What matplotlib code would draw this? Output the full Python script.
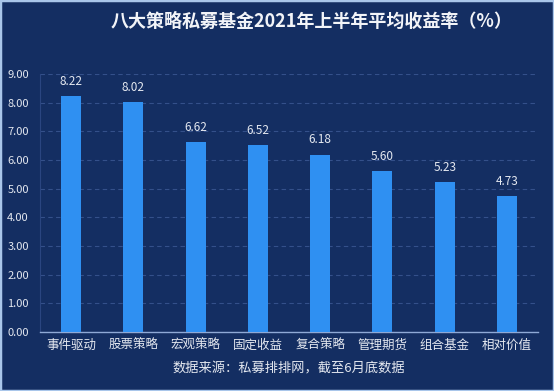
import matplotlib
matplotlib.use("Agg")
import matplotlib.pyplot as plt
from matplotlib.patches import Rectangle

plt.rcParams['font.family'] = ['Noto Sans CJK SC', 'DejaVu Sans']

# --- Data ---
categories = ["事件驱动", "股票策略", "宏观策略", "固定收益", "复合策略", "管理期货", "组合基金", "相对价值"]
returns = [8.22, 8.02, 6.62, 6.52, 6.18, 5.60, 5.23, 4.73]
yticks = [0, 1, 2, 3, 4, 5, 6, 7, 8, 9]

# --- Colours ---
bg = "#142e62"
bar_color = "#2f90f2"
grid_color = "#34508a"
text_color = "#e4e8f0"

fig = plt.figure(figsize=(5.54, 3.91), dpi=100, facecolor=bg)
ax = fig.add_axes([0.0722, 0.151, 0.899, 0.660], facecolor=bg)

x = range(len(categories))
bars = ax.bar(x, returns, width=0.32, color=bar_color, zorder=3)

for xi, v in zip(x, returns):
    ax.annotate(f"{v:.2f}", (xi, v), xytext=(0, 6), textcoords="offset points",
                ha="center", va="bottom", color=text_color, fontsize=8.5)

ax.set_xlim(-0.5, len(categories) - 0.5)
ax.set_ylim(0, 9)
ax.set_yticks(yticks)
ax.set_yticklabels([f"{t:.2f}" for t in yticks], color=text_color, fontsize=8)
ax.set_xticks(list(x))
ax.set_xticklabels(categories, color=text_color, fontsize=9)
ax.tick_params(length=0, pad=5)
ax.tick_params(axis="y", pad=8)

ax.grid(axis="y", color=grid_color, linestyle=(0, (4, 3)), linewidth=0.8, zorder=0)
for s in ["top", "right"]:
    ax.spines[s].set_visible(False)
ax.spines["left"].set_color("#2a4580")
ax.spines["left"].set_linewidth(0.8)
ax.spines["bottom"].set_color("#8fa9d6")
ax.spines["bottom"].set_linewidth(1.0)

fig.text(0.563, 0.946, "八大策略私募基金2021年上半年平均收益率（%）", ha="center", va="center",
         color="#f2f4f8", fontsize=13, fontweight="bold")
fig.text(0.521, 0.057, "数据来源：私募排排网，截至6月底数据", ha="center", va="center",
         color=text_color, fontsize=9.5)

# light frame around the picture
fig.patches.append(Rectangle((0, 0), 1, 1, transform=fig.transFigure, fill=False,
                             edgecolor="#a9c6ea", linewidth=2.5))

fig.savefig("out.png", dpi=100, facecolor=bg)
